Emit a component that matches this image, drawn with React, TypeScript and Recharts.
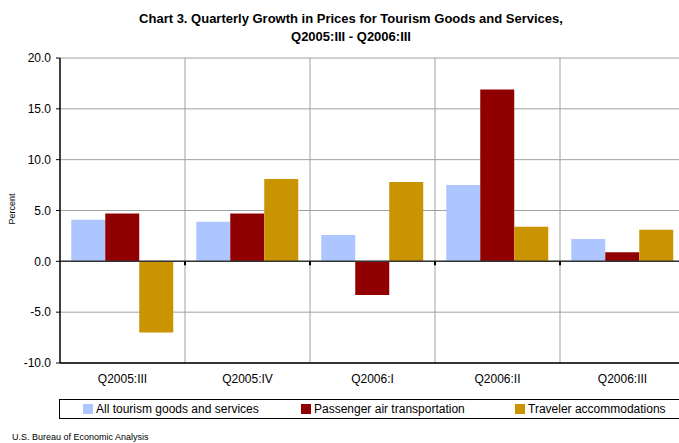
import { Bar, BarChart, CartesianGrid, ReferenceLine, XAxis, YAxis } from "recharts";

const quarters = ["Q2005:III", "Q2005:IV", "Q2006:I", "Q2006:II", "Q2006:III"];
const allTourism = [4.1, 3.9, 2.6, 7.5, 2.2];
const passengerAir = [4.7, 4.7, -3.3, 16.9, 0.9];
const accommodations = [-7.0, 8.1, 7.8, 3.4, 3.1];
const yTicks = [-10, -5, 0, 5, 10, 15, 20];

const seriesNames = ["All tourism goods and services", "Passenger air transportation", "Traveler accommodations"];
const colors = ["#adc6ff", "#900000", "#c99400"];

const data = quarters.map((q, i) => ({
  q,
  all: allTourism[i],
  air: passengerAir[i],
  acc: accommodations[i],
}));

const font = "'Liberation Sans', Arial, sans-serif";

// zero line with small tick marks at the category boundaries
function ZeroLine(props: any) {
  const { x1, x2, y1 } = props;
  const step = (x2 - x1) / quarters.length;
  const marks = [];
  for (let i = 1; i < quarters.length; i++) {
    const x = x1 + step * i;
    marks.push(<line key={i} x1={x} x2={x} y1={y1} y2={y1 + 4} stroke="#000" strokeWidth={2} />);
  }
  return (
    <g>
      <line x1={x1} x2={x2} y1={y1} y2={y1} stroke="#333" strokeWidth={1.5} />
      {marks}
    </g>
  );
}

export default function App() {
  return (
    <div style={{ position: "relative", width: 679, height: 443, overflow: "hidden", fontFamily: font, background: "#fff" }}>
      <style>{"body{margin:0}"}</style>
      <div style={{ position: "absolute", top: 10, left: 0, width: 702, textAlign: "center", fontWeight: "bold", fontSize: 13, lineHeight: "18px" }}>
        Chart 3. Quarterly Growth in Prices for Tourism Goods and Services,
        <br />
        Q2005:III - Q2006:III
      </div>
      <div style={{ position: "absolute", left: -8, top: 204, width: 40, textAlign: "center", fontSize: 9, transform: "rotate(-90deg)" }}>
        Percent
      </div>
      <BarChart
        width={690}
        height={443}
        data={data}
        margin={{ top: 58, left: 0, right: 5, bottom: 50 }}
        barCategoryGap="9%"
        barGap={0}
      >
        <CartesianGrid
          stroke="#a0a0a0"
          verticalCoordinatesGenerator={({ offset }: any) =>
            quarters.map((_, i) => offset.left + (offset.width / quarters.length) * (i + 1))
          }
          syncWithTicks={false}
        />
        <XAxis
          dataKey="q"
          height={30}
          tickLine={false}
          tickSize={0}
          tickMargin={11}
          axisLine={{ stroke: "#000", strokeWidth: 1.5 }}
          tick={{ fill: "#000", fontSize: 12, fontFamily: font }}
        />
        <YAxis
          width={60}
          domain={[-10, 20]}
          ticks={yTicks}
          interval={0}
          tickFormatter={(v: number) => v.toFixed(1)}
          tickSize={4}
          tickMargin={5}
          axisLine={{ stroke: "#000", strokeWidth: 1.5 }}
          tickLine={{ stroke: "#000" }}
          tick={{ fill: "#000", fontSize: 12, fontFamily: font }}
        />
        <Bar dataKey="all" fill={colors[0]} isAnimationActive={false} />
        <Bar dataKey="air" fill={colors[1]} isAnimationActive={false} />
        <Bar dataKey="acc" fill={colors[2]} isAnimationActive={false} />
        <ReferenceLine y={0} shape={ZeroLine} />
      </BarChart>
      <div
        style={{
          position: "absolute",
          left: 59,
          top: 399,
          width: 640,
          height: 18,
          border: "1px solid #000",
          borderRight: "none",
          fontSize: 12,
        }}
      >
        {seriesNames.map((name, i) => (
          <div key={name} style={{ position: "absolute", left: [23, 241, 455][i], top: 2, display: "flex", alignItems: "center", whiteSpace: "nowrap" }}>
            <span style={{ display: "inline-block", width: 10, height: 10, background: colors[i], marginRight: 3 }} />
            <span style={{ lineHeight: "14px" }}>{name}</span>
          </div>
        ))}
      </div>
      <div style={{ position: "absolute", left: 12, top: 432, fontSize: 9 }}>U.S. Bureau of Economic Analysis</div>
    </div>
  );
}
